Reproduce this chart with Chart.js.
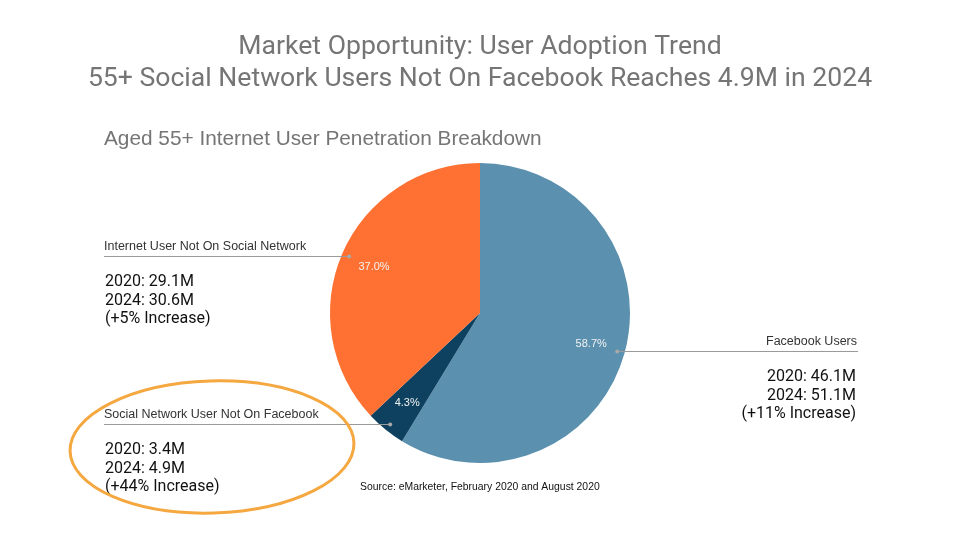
<!DOCTYPE html>
<html>
<head>
<meta charset="utf-8">
<script src="https://cdn.jsdelivr.net/npm/chart.js@4"></script>
<style>
  html, body { margin: 0; padding: 0; background: #fff; }
  canvas { display: block; }
</style>
</head>
<body>
<canvas id="pie" width="960" height="540"></canvas>
<script>
// data
var categories = ["Facebook Users", "Social Network User Not On Facebook", "Internet User Not On Social Network"];
var shares = [58.7, 4.3, 37.0];
var users2020 = ["46.1M", "3.4M", "29.1M"];
var users2024 = ["51.1M", "4.9M", "30.6M"];
var increases = ["+11%", "+44%", "+5%"];
var colors = ["#5b90ae", "#0e4160", "#ff7132"];

var titleLines = ["Market Opportunity: User Adoption Trend", "55+ Social Network Users Not On Facebook Reaches 4.9M in 2024"];
var subtitle = "Aged 55+ Internet User Penetration Breakdown";
var source = "Source: eMarketer, February 2020 and August 2020";

// callout side for each slice: 1 = right, -1 = left
var sides = [1, -1, -1];

var overlay = {
	id: 'overlay',
	afterDraw: function(chart) {
		var ctx = chart.ctx;
		var meta = chart.getDatasetMeta(0);
		ctx.save();

		// big slide title
		ctx.fillStyle = "#757575";
		ctx.font = "26.6px Roboto";
		ctx.textAlign = "center";
		ctx.textBaseline = "middle";
		ctx.fillText(titleLines[0], 480, 47);
		ctx.fillText(titleLines[1], 480, 79);

		// chart subtitle
		ctx.font = "20.8px 'Liberation Sans', Arial";
		ctx.textAlign = "left";
		ctx.fillText(subtitle, 104, 139);

		for (var i = 0; i < meta.data.length; i++) {
			var arc = meta.data[i];
			var mid = (arc.startAngle + arc.endAngle) / 2;
			var r = arc.outerRadius;

			// percent inside slice
			ctx.fillStyle = "#f2f2f2";
			ctx.font = "11px 'Liberation Sans', Arial";
			ctx.textAlign = "center";
			ctx.textBaseline = "middle";
			ctx.fillText(shares[i].toFixed(1) + "%", arc.x + Math.cos(mid) * r * 0.77, arc.y + Math.sin(mid) * r * 0.77);

			// callout line
			var dx = arc.x + Math.cos(mid) * r * 0.95;
			var dy = Math.round(arc.y + Math.sin(mid) * r * 0.95) + 0.5;
			var endX = sides[i] > 0 ? 858 : 104;
			ctx.strokeStyle = "#9a9a9a";
			ctx.lineWidth = 1;
			ctx.beginPath();
			ctx.moveTo(dx, dy);
			ctx.lineTo(endX, dy);
			ctx.stroke();
			ctx.fillStyle = "#a8a8a8";
			ctx.beginPath();
			ctx.arc(dx, dy, 2, 0, Math.PI * 2);
			ctx.fill();

			ctx.textAlign = sides[i] > 0 ? "right" : "left";
			var tx = sides[i] > 0 ? endX - 1 : endX;
			ctx.fillStyle = "#333";
			ctx.font = "12.5px 'Liberation Sans', Arial";
			ctx.fillText(categories[i], tx, dy - 10);

			ctx.fillStyle = "#111";
			ctx.font = "16px Roboto";
			ctx.fillText("2020: " + users2020[i], tx - sides[i], dy + 25);
			ctx.fillText("2024: " + users2024[i], tx - sides[i], dy + 44);
			ctx.fillText("(" + increases[i] + " Increase)", tx - sides[i], dy + 62);
		}

		// source note
		ctx.fillStyle = "#111";
		ctx.font = "10.4px 'Liberation Sans', Arial";
		ctx.textAlign = "left";
		ctx.fillText(source, 360, 487);

		// hand drawn highlight round the small slice
		ctx.strokeStyle = "#f5a740";
		ctx.lineWidth = 3;
		ctx.beginPath();
		ctx.ellipse(212, 447, 142, 66, -0.03, 0, Math.PI * 2);
		ctx.stroke();

		ctx.restore();
	}
};

var pie = document.getElementById("pie").getContext('2d');
var pieChart = new Chart(pie, {
	type: 'pie',
	data: {
		labels: categories,
		datasets: [{
			data: shares,
			backgroundColor: colors,
			borderWidth: 0
		}]
	},
	options: {
		responsive: false,
		animation: false,
		devicePixelRatio: 1,
		layout: { padding: { top: 163, bottom: 77, left: 330, right: 330 } },
		plugins: {
			legend: { display: false },
			tooltip: { enabled: false }
		}
	},
	plugins: [overlay]
});
</script>
</body>
</html>
